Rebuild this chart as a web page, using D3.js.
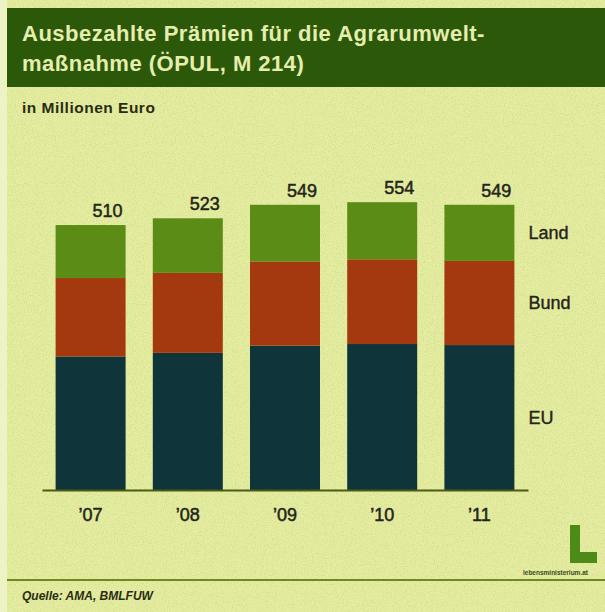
<!DOCTYPE html>
<html>
<head>
<meta charset="utf-8">
<script src="https://cdn.jsdelivr.net/npm/d3@7"></script>
<style>
  body { margin: 0; background: #eef3c6; }
  svg { display: block; font-family: "Liberation Sans", Arial, sans-serif; }
</style>
</head>
<body>
<div id="chart"></div>
<script>
// Values in millions of euro
const years = ["’07", "’08", "’09", "’10", "’11"];
const eu = [257, 264, 278, 281, 279];
const bund = [151, 154, 162, 163, 162];
const land = [102, 105, 109, 110, 108];
const totals = [510, 523, 549, 554, 549];
const seriesNames = ["EU", "Bund", "Land"];

const colors = { EU: "#0f353b", Bund: "#a4380f", Land: "#5a8c16" };

const width = 605, height = 612;

const svg = d3.select("#chart")
  .append("svg")
  .attr("width", width)
  .attr("height", height);

// paper texture
const defs = svg.append("defs");
const noise = defs.append("filter").attr("id", "noise")
  .attr("x", 0).attr("y", 0).attr("width", "100%").attr("height", "100%");
noise.append("feTurbulence")
  .attr("type", "fractalNoise")
  .attr("baseFrequency", 0.9)
  .attr("numOctaves", 2)
  .attr("seed", 4);
noise.append("feColorMatrix")
  .attr("values", "0 0 0 0 0.35  0 0 0 0 0.4  0 0 0 0 0.05  0 0 0 -2.2 1.25");

// background panels
svg.append("rect")
  .attr("x", 7).attr("y", 0)
  .attr("width", width - 7).attr("height", height)
  .attr("fill", "#e5eda2");
svg.append("rect")
  .attr("x", 7).attr("y", 0)
  .attr("width", width - 7).attr("height", height)
  .attr("filter", "url(#noise)")
  .attr("opacity", 0.25);

// title band
svg.append("rect")
  .attr("x", 7).attr("y", 8)
  .attr("width", width - 7).attr("height", 79)
  .attr("fill", "#2c5909");

const title = svg.append("text")
  .attr("x", 22)
  .attr("fill", "#e6eeaf")
  .style("font-size", "22px")
  .style("font-weight", "bold")
  .style("letter-spacing", "0.5px");
title.append("tspan").attr("x", 22).attr("y", 41).text("Ausbezahlte Prämien für die Agrarumwelt-");
title.append("tspan").attr("x", 22).attr("y", 71).text("maßnahme (ÖPUL, M 214)");

svg.append("text")
  .attr("x", 22)
  .attr("y", 113)
  .attr("fill", "#2a2c12")
  .style("font-size", "15.5px")
  .style("font-weight", "bold")
  .style("letter-spacing", "0.5px")
  .text("in Millionen Euro");

// scales
const x = d3.scaleBand()
  .domain(years)
  .range([42, 528])
  .paddingInner(0.28)
  .paddingOuter(0.14);

const y = d3.scaleLinear()
  .domain([0, 600])
  .range([490, 178.3]);

const table = years.map((yr, i) => ({ year: yr, EU: eu[i], Bund: bund[i], Land: land[i], total: totals[i] }));
const stacked = d3.stack().keys(seriesNames)(table);

// stacked bars
svg.selectAll(".series")
  .data(stacked)
  .enter()
  .append("g")
  .attr("class", "series")
  .attr("fill", d => colors[d.key])
  .selectAll("rect")
  .data(d => d)
  .enter()
  .append("rect")
  .attr("x", d => x(d.data.year))
  .attr("y", d => y(d[1]))
  .attr("width", x.bandwidth())
  .attr("height", d => y(d[0]) - y(d[1]));

// totals above bars
svg.selectAll(".total")
  .data(table)
  .enter()
  .append("text")
  .attr("class", "total")
  .attr("x", d => x(d.year) + x.bandwidth() - 3)
  .attr("y", d => y(d.total) - 8)
  .attr("text-anchor", "end")
  .attr("fill", "#23251a")
  .attr("stroke", "#23251a")
  .attr("stroke-width", 0.5)
  .style("font-size", "18px")
  .text(d => d.total);

// x axis
const xAxis = svg.append("g")
  .attr("transform", "translate(0,490)")
  .call(d3.axisBottom(x).tickSize(0).tickSizeOuter(0).tickPadding(18));
xAxis.select(".domain")
  .attr("stroke", "#4c5a14")
  .attr("stroke-width", 2);
xAxis.selectAll("text")
  .attr("fill", "#23251a")
  .attr("stroke", "#23251a")
  .attr("stroke-width", 0.5)
  .style("font-size", "18px")
  .style("font-family", "'Liberation Sans', Arial, sans-serif");

// series labels beside last bar
const last = stacked.map(s => ({ key: s.key, mid: (s[s.length - 1][0] + s[s.length - 1][1]) / 2 }));
svg.selectAll(".serieslabel")
  .data(last)
  .enter()
  .append("text")
  .attr("class", "serieslabel")
  .attr("x", x(years[years.length - 1]) + x.bandwidth() + 14)
  .attr("y", d => y(d.mid))
  .attr("dy", "0.36em")
  .attr("fill", "#23251a")
  .attr("stroke", "#23251a")
  .attr("stroke-width", 0.4)
  .style("font-size", "18px")
  .text(d => d.key);

// footer rule and source
svg.append("line")
  .attr("x1", 7).attr("x2", width)
  .attr("y1", 580).attr("y2", 580)
  .attr("stroke", "#6b8a22")
  .attr("stroke-width", 2);

svg.append("text")
  .attr("x", 22)
  .attr("y", 600)
  .attr("fill", "#2a2c12")
  .style("font-size", "12px")
  .style("font-weight", "bold")
  .style("font-style", "italic")
  .text("Quelle: AMA, BMLFUW");

// logo: an "L" mark and the site name
svg.append("path")
  .attr("d", "M570,525 h10 v27 h17 v11 h-27 Z")
  .attr("fill", "#4e8a18");
svg.append("text")
  .attr("x", 588)
  .attr("y", 575)
  .attr("text-anchor", "end")
  .attr("fill", "#3a4a16")
  .style("font-size", "6.5px")
  .style("font-weight", "bold")
  .text("lebensministerium.at");
</script>
</body>
</html>
